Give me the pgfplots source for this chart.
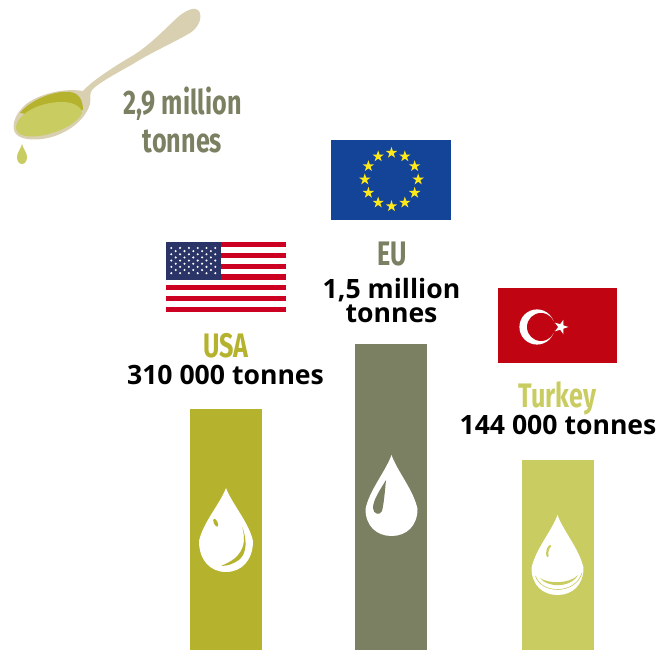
\documentclass[border=0pt]{standalone}
\usepackage{fontspec}
\setmainfont{Open Sans}
\newfontfamily\headfont{Fira Sans}
\usepackage{pgfplots}
\pgfplotsset{compat=1.18}
\usetikzlibrary{shapes.geometric}
\definecolor{olivea}{HTML}{B5B32E}
\definecolor{oliveb}{HTML}{7C8062}
\definecolor{olivec}{HTML}{C9CC60}
\definecolor{spoon}{HTML}{D8D0B0}
\definecolor{eublue}{HTML}{144497}
\definecolor{euyellow}{HTML}{FFE919}
\definecolor{usnavy}{HTML}{2B3466}
\definecolor{usred}{HTML}{CC0020}
\definecolor{trred}{HTML}{C00411}
% drop outline: {centre x}{tip y}{widest y}{bottom y}{half width}
\newcommand\dropshape[5]{
  \fill[white] (#1,#2)
    .. controls (#1+0.22*#5,{#2+0.30*(#3-#2)}) and (#1+0.85*#5,{#2+0.65*(#3-#2)}) .. (#1+#5,#3)
    .. controls (#1+#5,{#3+0.62*(#4-#3)}) and (#1+0.58*#5,#4) .. (#1,#4)
    .. controls (#1-0.58*#5,#4) and (#1-#5,{#3+0.62*(#4-#3)}) .. (#1-#5,#3)
    .. controls (#1-0.85*#5,{#2+0.65*(#3-#2)}) and (#1-0.22*#5,{#2+0.30*(#3-#2)}) .. (#1,#2) -- cycle;
}
% condensed heading: {x}{baseline y}{colour}{size}{text}
\newcommand\headlabel[5]{
  \node[anchor=base,inner sep=0pt,text=#3,xscale=0.74,font=\headfont\bfseries\fontsize{#4}{#4}\selectfont] at (#1,#2) {#5};
}
% tonnage label: {x}{baseline y}{text}
\newcommand\amount[3]{
  \node[anchor=base,inner sep=0pt,text=black,font=\bfseries\fontsize{26.6}{26.6}\selectfont] at (#1,#2) {#3};
}
\begin{document}
\begin{tikzpicture}[x=1pt,y=1pt]
\path[use as bounding box] (0,0) rectangle (661,650);
\begin{axis}[
  at={(0,0)},anchor=south west,
  scale only axis,width=661pt,height=650pt,
  xmin=0,xmax=661,ymin=0,ymax=650,
  hide axis,clip=false,
  ybar,bar width=72pt,bar shift=0pt,
]
\addplot[draw=none,fill=olivea] coordinates {(226,241)};
\addplot[draw=none,fill=oliveb] coordinates {(391,306)};
\addplot[draw=none,fill=olivec] coordinates {(558,190)};
\end{axis}
% everything below is laid out from the top-left corner, y pointing down
\begin{scope}[shift={(0,650)},y=-1pt]
  % spoon
  \fill[spoon] (83,91) .. controls (90,83) and (108,70) .. (133,55.5)
    .. controls (150,45) and (165,29) .. (178,17)
    .. controls (186,10) and (196,6) .. (199,11)
    .. controls (203,18) and (198,28) .. (190,33)
    .. controls (175,42) and (150,53) .. (133,64)
    .. controls (115,74) and (97,84) .. (92,90)
    .. controls (89,94) and (91,100) .. (90,104)
    .. controls (86,118) and (72,130) .. (55,136)
    .. controls (40,141) and (22,141) .. (16,134)
    .. controls (11,128) and (14,116) .. (23,107)
    .. controls (32,97) and (60,87) .. (83,91) -- cycle;
  \fill[olivea] (20,113) .. controls (30,100) and (55,90) .. (70,92)
    .. controls (80,93) and (83,102) .. (83,110) -- (50,118) -- cycle;
  \fill[olivec] (16,126) .. controls (19,113) and (40,102) .. (62,102)
    .. controls (75,102) and (82,108) .. (82,113)
    .. controls (78,122) and (65,130) .. (45,135)
    .. controls (30,138) and (15,137) .. (16,126) -- cycle;
  \fill[olivec] (22,144) .. controls (23,149) and (27,152) .. (27,157)
    .. controls (27,161) and (25,164) .. (22,164)
    .. controls (19,164) and (17,161) .. (17,157)
    .. controls (17,152) and (21,149) .. (22,144) -- cycle;
  \headlabel{182.5}{115}{oliveb}{34}{2,9 million}
  \headlabel{182.5}{153}{oliveb}{34}{tonnes}

  % EU flag
  \fill[eublue] (331,140) rectangle (451,220);
  \foreach \a in {0,30,...,330}
    \node[star,star points=5,star point ratio=2.618,fill=euyellow,inner sep=0pt,
          minimum size=12pt] at ({391.5+26.7*sin(\a)},{179.5-26.7*cos(\a)}) {};

  % US flag
  \fill[white] (166,242) rectangle (286,312);
  \foreach \i in {0,2,...,12}
    \fill[usred] (166,{242+\i*70/13}) rectangle (286,{242+(\i+1)*70/13});
  \fill[usnavy] (166,242) rectangle (221,280);
  \foreach \r in {0,2,...,8}
    \foreach \c in {0,...,5}
      \fill[white] ({171.3+8.8*\c},{248+3.15*\r}) circle (1.15);
  \foreach \r in {1,3,...,7}
    \foreach \c in {0,...,4}
      \fill[white] ({175.7+8.8*\c},{248+3.15*\r}) circle (1.15);

  % Turkish flag
  \fill[trred] (498,288) rectangle (617,363);
  \fill[white] (537,327) circle (17.6);
  \fill[trred] (541,327) circle (14);
  \node[star,star points=5,star point ratio=2.618,fill=white,inner sep=0pt,
        minimum size=15pt,rotate=-90] at (561,327) {};

  % country names and quantities
  \headlabel{226}{358}{olivea}{34}{USA}
  \amount{225.5}{385}{310 000 tonnes}
  \headlabel{392}{266}{oliveb}{34}{EU}
  \amount{391.5}{299}{1,5 million}
  \amount{391.5}{323}{tonnes}
  \headlabel{557.5}{408}{olivec}{34}{Turkey}
  \amount{558}{435}{144 000 tonnes}

  % drops on the bars
  \dropshape{226}{488}{541}{572}{27}
  \fill[olivea,rotate around={25:(215.7,522.7)}] (215.7,522.7) ellipse (1.9 and 4.3);
  \fill[olivea] (242.3,527) .. controls (247,540) and (247,552) .. (240,559)
    .. controls (234,564) and (227,566) .. (221,566)
    .. controls (228,563) and (234,560) .. (238,555)
    .. controls (245,547) and (245,538) .. (242.3,527) -- cycle;
  \dropshape{391.5}{455}{509}{536}{26}
  \fill[oliveb] (386,480) .. controls (380,490) and (373,500) .. (373,508)
    .. controls (373,514) and (380,516) .. (382,511)
    .. controls (384,503) and (385,490) .. (386,480) -- cycle;
  \dropshape{557.5}{515}{568}{595}{26}
  \draw[olivec,line width=2.2pt,line cap=round] (550,546) .. controls (547,549) and (547,553) .. (547.5,556);
  \fill[olivec] (540,578) .. controls (546,587) and (570,589) .. (578,575)
    .. controls (570,584) and (548,584) .. (540,578) -- cycle;
  \draw[olivec,line width=0.6pt] (535.5,576) .. controls (541,594) and (575,595) .. (582,573);
\end{scope}
\end{tikzpicture}
\end{document}
